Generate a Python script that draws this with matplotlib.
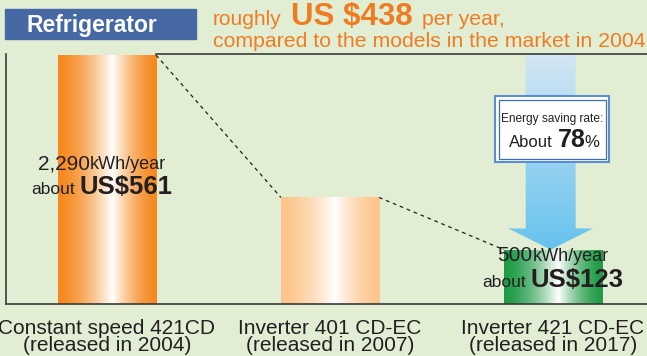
import numpy as np
import matplotlib
matplotlib.use("Agg")
import matplotlib.pyplot as plt
from matplotlib.patches import Polygon, Rectangle
from matplotlib.transforms import IdentityTransform
from matplotlib.colors import to_rgb

plt.rcParams['font.family'] = ['Liberation Sans', 'DejaVu Sans']

models = ["Constant speed 421CD", "Inverter 401 CD-EC", "Inverter 421 CD-EC"]
released = ["(released in 2004)", "(released in 2007)", "(released in 2017)"]
kwh_per_year = [2290, 980, 500]
bar_colors = ["#F5891F", "#FDC58B", "#1F9B46"]
saving_rate = 78
bill_old, bill_new = 561, 123
saving_usd = 438

BG = "#E2EED4"
INK = "#231F20"
ORANGE = "#F07C22"
W, H = 647, 356

fig = plt.figure(figsize=(W / 100, H / 100), dpi=100, facecolor=BG)
ax = fig.add_axes([6 / W, 52 / H, 641 / W, 250 / H])
ax.set_facecolor("none")
renderer = fig.canvas.get_renderer()


def shine(color, peak=0.55, n=256):
    # edge colour fading to white a little right of centre
    t = np.linspace(0, 1, n)
    d = np.where(t < peak, (peak - t) / peak, (t - peak) / (1 - peak))
    w = (1 - d) ** 1.6
    c = np.array(to_rgb(color))
    return (c + (1 - c) * w[:, None])[None, :, :]


x = np.arange(len(models))
bw = 0.44
bars = ax.bar(x, kwh_per_year, width=bw, color="none", edgecolor="none")
for b, c in zip(bars, bar_colors):
    im = ax.imshow(shine(c), extent=[b.get_x(), b.get_x() + bw, 0, b.get_height()],
                   aspect="auto", interpolation="bilinear", zorder=2)
    im.set_clip_path(b)

# dashed links between bar tops
for i in range(len(x) - 1):
    ax.plot([x[i] + bw / 2, x[i + 1] - bw / 2], [kwh_per_year[i], kwh_per_year[i + 1]],
            ls=(0, (3, 3)), color=INK, lw=0.9, zorder=3)
ax.plot([x[0] + bw / 2, 2.422], [2300, 2300], color="#3A3A3A", lw=1.2, clip_on=False, zorder=3)

# down arrow onto the newest model
cx = x[2] - 0.01
top, tip = 2300, kwh_per_year[2]
head = tip + 195
sw, hw = 0.112, 0.19
arrow = Polygon([(cx - sw, top), (cx + sw, top), (cx + sw, head), (cx + hw, head),
                 (cx, tip), (cx - hw, head), (cx - sw, head)], closed=True,
                facecolor="none", edgecolor="none")
ax.add_patch(arrow)
c1, c2 = np.array(to_rgb("#D3E6F3")), np.array(to_rgb("#66C2EE"))
t = np.linspace(0, 1, 128)[:, None]
grad = (c1 + (c2 - c1) * t)[:, None, :]
im = ax.imshow(grad, extent=[cx - hw, cx + hw, tip, top], aspect="auto", zorder=2.5)
im.set_clip_path(arrow)
ax.set_xlim(-0.453, 2.422)
ax.set_ylim(0, 2300)

for s in ["top", "right"]:
    ax.spines[s].set_visible(False)
for s in ["left", "bottom"]:
    ax.spines[s].set_color("#3A3A3A")
    ax.spines[s].set_linewidth(1.2)
ax.set_yticks([])
ax.set_xticks(x)
ax.set_xticklabels([f"{m}\n{r}" for m, r in zip(models, released)],
                   fontsize=15, color=INK)
for lbl in ax.get_xticklabels():
    lbl.set_linespacing(0.92)
ax.tick_params(axis="x", length=0, pad=10.5)


def runs(x0, yb, parts, color=INK, align="center"):
    items, widths = [], []
    for s, size, weight, gap in parts:
        tx = fig.text(0, 0, s, fontsize=size, fontweight=weight, color=color,
                      transform=IdentityTransform(), ha="left", va="baseline")
        items.append(tx)
        widths.append(tx.get_window_extent(renderer).width + gap)
    xs = x0 - sum(widths) / 2 if align == "center" else x0
    for tx, w in zip(items, widths):
        tx.set_position((xs, H - yb))
        xs += w


# header
fig.add_artist(Rectangle((5, H - 39), 191, 30, color="#4668A5", transform=IdentityTransform()))
runs(92, 32, [("Refrigerator", 16.5, "bold", 0)], color="white")
runs(213, 25, [("roughly", 15, "normal", 9), (f"US ${saving_usd}", 22.5, "bold", 9),
               ("per year,", 15.3, "normal", 0)], color=ORANGE, align="left")
runs(213, 47, [("compared to the models in the market in 2004", 15.3, "normal", 0)],
     color=ORANGE, align="left")

# value labels
runs(102, 169, [(f"{kwh_per_year[0]:,}", 15, "normal", 0), ("kWh/year", 13, "normal", 0)])
runs(102, 194, [("about", 12.5, "normal", 5), (f"US${bill_old}", 18.5, "bold", 0)])
runs(553, 261, [(f"{kwh_per_year[2]}", 15, "normal", 0), ("kWh/year", 13, "normal", 0)])
runs(553, 287, [("about", 12.5, "normal", 5), (f"US${bill_new}", 18.5, "bold", 0)])

# saving-rate box
fig.add_artist(Rectangle((495, H - 162), 114, 66, facecolor="white", edgecolor="#5B8ED0",
                         lw=1.5, transform=IdentityTransform()))
fig.add_artist(Rectangle((498.5, H - 158.5), 107, 59, facecolor="none", edgecolor="#3A6FB8",
                         lw=0.9, transform=IdentityTransform()))
runs(552, 122, [("Energy saving rate:", 8.6, "normal", 0)])
runs(554, 147, [("About", 12, "normal", 5), (f"{saving_rate}", 18, "bold", -1), ("%", 12, "normal", 0)])

fig.savefig("out.png", dpi=100, facecolor=BG)
